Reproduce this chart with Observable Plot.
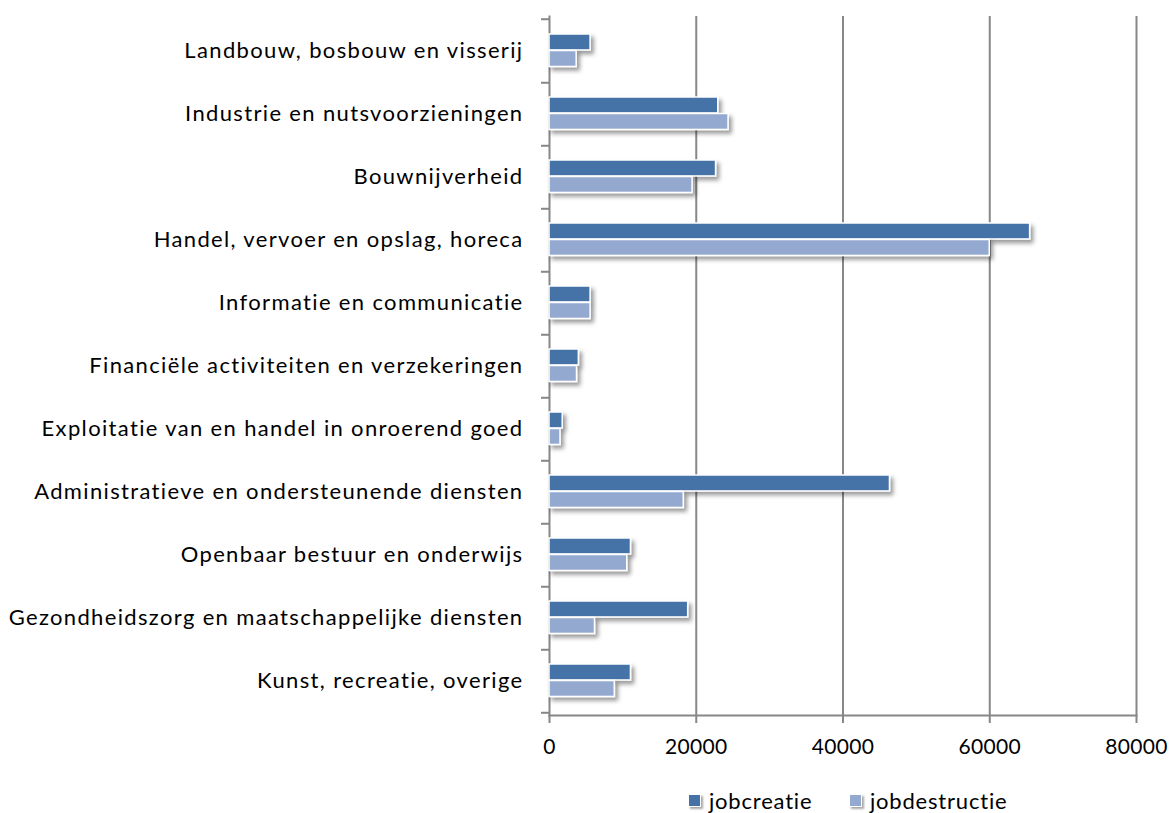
<!DOCTYPE html>
<html><head><meta charset="utf-8">
<script src="https://cdn.jsdelivr.net/npm/d3@7"></script>
<script src="https://cdn.jsdelivr.net/npm/@observablehq/plot@0.6"></script>
<style>
body{margin:0;background:#fff;font-family:Lato,"Open Sans",sans-serif;}
#wrap{position:relative;width:1175px;height:813px;}
#legend .item{position:absolute;top:787px;display:flex;align-items:center;font-size:22px;letter-spacing:0.8px;color:#000;white-space:nowrap;}
#legend .sw{width:11px;height:11px;border:1px solid #fff;box-shadow:2px 2px 2px rgba(0,0,0,0.35);margin-right:8px;}
g[aria-label="y-axis tick label"] text{letter-spacing:1.35px;}
g[aria-label="x-axis tick label"] text{letter-spacing:0.3px;}
</style></head><body><div id="wrap"><div id="chart"></div><div id="legend"></div></div>
<script>
const categories = [
  "Landbouw, bosbouw en visserij",
  "Industrie en nutsvoorzieningen",
  "Bouwnijverheid",
  "Handel, vervoer en opslag, horeca",
  "Informatie en communicatie",
  "Financiële activiteiten en verzekeringen",
  "Exploitatie van en handel in onroerend goed",
  "Administratieve en ondersteunende diensten",
  "Openbaar bestuur en onderwijs",
  "Gezondheidszorg en maatschappelijke diensten",
  "Kunst, recreatie, overige"
];
const jobcreatie    = [5600, 23000, 22700, 65500, 5600, 4000, 1800, 46400, 11100, 18900, 11100];
const jobdestructie = [3700, 24400, 19500, 60000, 5600, 3750, 1500, 18300, 10600, 6200, 8900];
const series = ["jobcreatie", "jobdestructie"];
const colors = ["#4573a7", "#94a9d0"];
const xTicks = [0, 20000, 40000, 60000, 80000];
const gridTicks = [20000, 40000, 60000, 80000];

const rowsC = categories.map((c, i) => ({category: c, series: series[0], value: jobcreatie[i]}));
const rowsD = categories.map((c, i) => ({category: c, series: series[1], value: jobdestructie[i]}));

const height = 775, marginTop = 16, marginBottom = 60;
const step = (height - marginTop - marginBottom) / categories.length;
const gray = "#878787";

const chart = Plot.plot({
  width: 1175,
  height,
  marginLeft: 549,
  marginRight: 39,
  marginTop,
  marginBottom,
  style: {fontFamily: "Lato, 'Open Sans', sans-serif", background: "#fff", color: "#000"},
  x: {domain: [0, 80000], label: null},
  y: {domain: categories, padding: 0, label: null},
  marks: [
    Plot.gridX(gridTicks, {stroke: gray, strokeOpacity: 1, strokeWidth: 2}),
    Plot.frame({anchor: "left", stroke: gray, strokeWidth: 2}),
    Plot.frame({anchor: "bottom", stroke: gray, strokeWidth: 2}),
    Plot.axisY({tickSize: 8, tickFormat: () => "", dy: step / 2, stroke: gray, strokeWidth: 2, label: null}),
    Plot.axisY([categories[0]], {tickSize: 8, tickFormat: () => "", dy: -step / 2, stroke: gray, strokeWidth: 2, label: null}),
    Plot.axisY({tickSize: 0, tickPadding: 26, fontSize: 22, fill: "#000", label: null}),
    Plot.axisX(xTicks, {tickSize: 8, tickPadding: 16, fontSize: 21, fill: "#000", stroke: gray, strokeWidth: 2, tickFormat: d => String(d), label: null}),
    Plot.barX(rowsC, {x: "value", y: "category", fill: colors[0], stroke: "#fff", strokeWidth: 1.5, insetTop: 15, insetBottom: step - 31.5}),
    Plot.barX(rowsD, {x: "value", y: "category", fill: colors[1], stroke: "#fff", strokeWidth: 1.5, insetTop: 31.5, insetBottom: step - 48})
  ]
});

// soft drop shadow on bars (Excel style)
const svg = d3.select(chart);
const defs = svg.insert("defs", ":first-child");
defs.append("filter").attr("id", "shadow").attr("x", "-10%").attr("y", "-30%").attr("width", "130%").attr("height", "180%")
  .append("feDropShadow").attr("dx", 3).attr("dy", 3.5).attr("stdDeviation", 2.2)
  .attr("flood-color", "#000").attr("flood-opacity", 0.4);
svg.selectAll('g[aria-label="bar"]').attr("filter", "url(#shadow)");

document.getElementById("chart").appendChild(chart);

const legend = document.getElementById("legend");
const legendLeft = [688, 849];
series.forEach((s, i) => {
  const item = document.createElement("div");
  item.className = "item";
  item.style.left = legendLeft[i] + "px";
  const sw = document.createElement("span");
  sw.className = "sw";
  sw.style.background = colors[i];
  const t = document.createElement("span");
  t.textContent = s;
  item.appendChild(sw);
  item.appendChild(t);
  legend.appendChild(item);
});
</script></body></html>
